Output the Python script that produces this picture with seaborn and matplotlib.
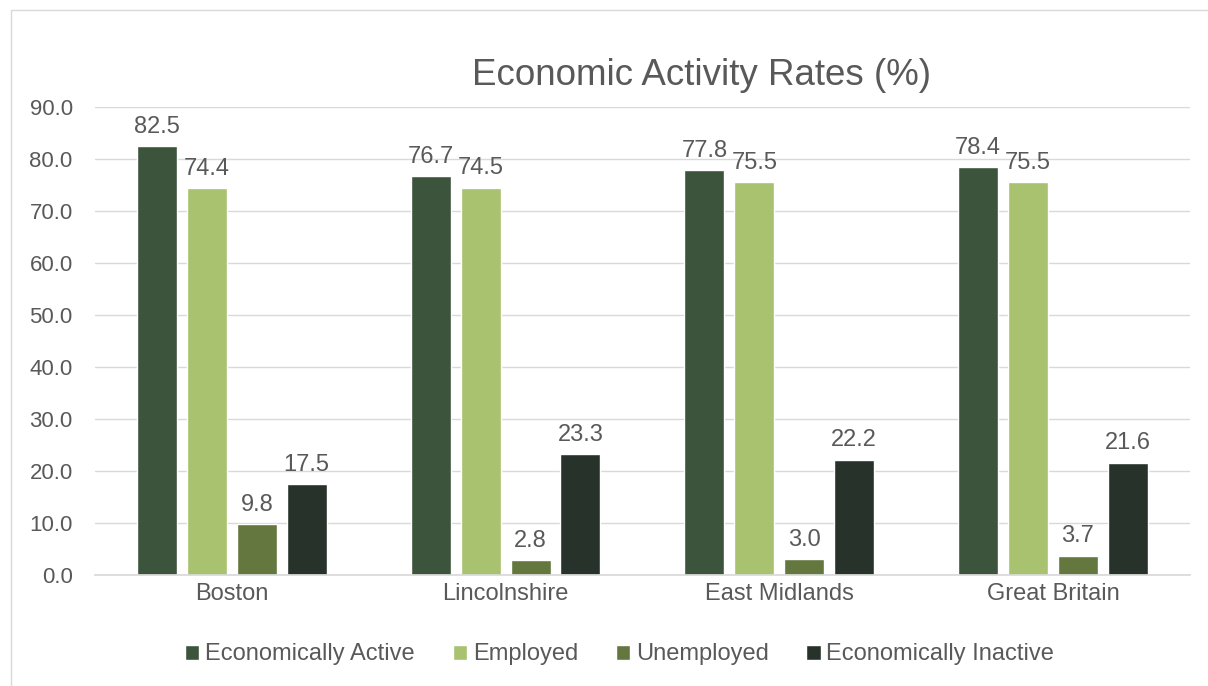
import matplotlib.pyplot as plt
import matplotlib.patches as mpatches
import pandas as pd
import seaborn as sns

regions = ["Boston", "Lincolnshire", "East Midlands", "Great Britain"]
series = ["Economically Active", "Employed", "Unemployed", "Economically Inactive"]
active = [82.5, 76.7, 77.8, 78.4]
employed = [74.4, 74.5, 75.5, 75.5]
unemployed = [9.8, 2.8, 3.0, 3.7]
inactive = [17.5, 23.3, 22.2, 21.6]

colors = ["#3C543C", "#A9C26F", "#64773F", "#27322A"]
TEXT = "#595959"


def main() -> None:
    sns.set_theme(style="white")
    plt.rcParams["font.family"] = ["Liberation Sans", "DejaVu Sans"]

    df = pd.DataFrame({
        "Region": regions * 4,
        "Series": [s for s in series for _ in regions],
        "Value": active + employed + unemployed + inactive,
    })

    fig = plt.figure(figsize=(12.08, 6.86), dpi=100)
    ax = fig.add_axes([0.0786, 0.1618, 0.9064, 0.6822])

    sns.barplot(
        data=df, x="Region", y="Value", hue="Series", hue_order=series,
        palette=colors, width=0.73, gap=0.2, ax=ax, legend=True, saturation=1,
    )

    for container in ax.containers:
        ax.bar_label(container, fmt="%.1f", padding=6, fontsize=17, color=TEXT)

    ax.set_ylim(0, 90)
    ax.set_yticks(range(0, 91, 10))
    ax.set_yticklabels([f"{v:.1f}" for v in range(0, 91, 10)])
    ax.yaxis.grid(True, color="#D9D9D9", linewidth=1)
    ax.set_axisbelow(True)
    for side in ["top", "right", "left"]:
        ax.spines[side].set_visible(False)
    ax.spines["bottom"].set_color("#D9D9D9")
    ax.set_xlabel("")
    ax.set_ylabel("")
    ax.tick_params(axis="y", labelsize=16, colors=TEXT, length=0, pad=16)
    ax.tick_params(axis="x", labelsize=17, colors=TEXT, length=0, pad=6)

    handles, labels = ax.get_legend_handles_labels()
    ax.legend_.remove()
    fig.legend(
        handles, labels, loc="center", bbox_to_anchor=(0.513, 0.046), ncol=4,
        frameon=False, fontsize=17, labelcolor=TEXT, handlelength=0.6,
        handleheight=0.6, handletextpad=0.25, columnspacing=1.6,
    )

    fig.text(0.581, 0.89, "Economic Activity Rates (%)", ha="center", va="center",
             fontsize=26.5, color=TEXT)

    fig.patches.append(mpatches.Rectangle(
        (0.009, -0.01), 1.0, 0.996, transform=fig.transFigure,
        fill=False, edgecolor="#D9D9D9", linewidth=1,
    ))

    fig.savefig("out.png", dpi=100)
    plt.close(fig)


if __name__ == "__main__":
    main()
